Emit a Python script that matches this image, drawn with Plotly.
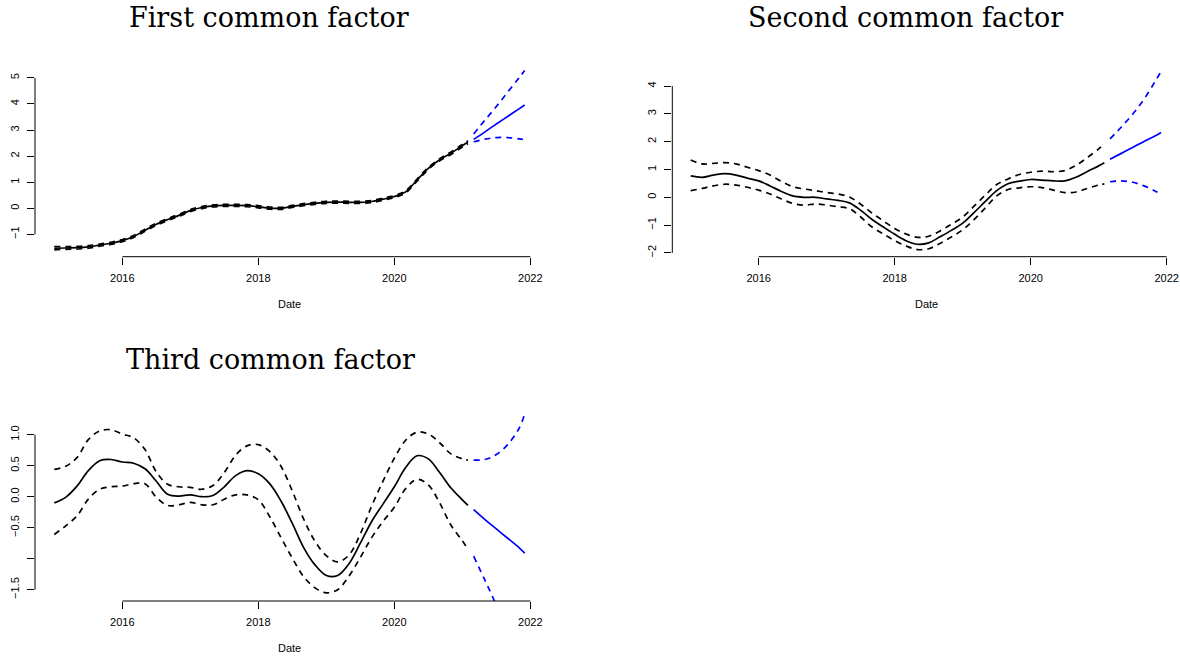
import plotly.graph_objects as go

W, H = 1180, 656

# ---- data -------------------------------------------------------------
# in-sample dates (bi-monthly readings, last observation Feb 2021)
HIST_DATES = [f"{y}-{m:02d}" for y in range(2015, 2021) for m in (1, 3, 5, 7, 9, 11)] + ["2021-01", "2021-02"]
# forecast horizon
FC_DATES = ["2021-03", "2021-05", "2021-07", "2021-09", "2021-11", "2021-12"]

F1_MEAN = [-1.53, -1.52, -1.51, -1.48, -1.41, -1.34,
           -1.24, -1.08, -0.84, -0.61, -0.43, -0.27,
           -0.09, 0.03, 0.09, 0.11, 0.11, 0.10,
           0.06, 0.01, 0.00, 0.07, 0.14, 0.19,
           0.23, 0.24, 0.23, 0.23, 0.26, 0.35,
           0.45, 0.63, 1.08, 1.53, 1.86, 2.11,
           2.40, 2.53]
F1_HALF = [0.06, 0.05, 0.05, 0.05, 0.04, 0.04,
           0.04, 0.04, 0.04, 0.04, 0.04, 0.04,
           0.04, 0.04, 0.04, 0.04, 0.04, 0.04,
           0.04, 0.04, 0.04, 0.04, 0.04, 0.04,
           0.04, 0.04, 0.04, 0.04, 0.04, 0.04,
           0.04, 0.04, 0.04, 0.04, 0.04, 0.05,
           0.05, 0.06]
F1_FC_MEAN = [2.64, 2.93, 3.23, 3.52, 3.81, 3.96]
F1_FC_UPPER = [2.85, 3.38, 3.90, 4.45, 5.00, 5.28]
F1_FC_LOWER = [2.55, 2.65, 2.71, 2.71, 2.66, 2.63]

F2_MEAN = [0.77, 0.72, 0.80, 0.85, 0.80, 0.69,
           0.59, 0.41, 0.21, 0.05, 0.00, 0.00,
           -0.06, -0.11, -0.20, -0.47, -0.80, -1.07,
           -1.33, -1.56, -1.69, -1.64, -1.42, -1.19,
           -0.93, -0.55, -0.15, 0.24, 0.49, 0.58,
           0.64, 0.62, 0.59, 0.59, 0.72, 0.93,
           1.13, 1.24]
F2_UPPER = [1.34, 1.20, 1.22, 1.25, 1.20, 1.08,
            0.96, 0.80, 0.57, 0.38, 0.30, 0.24,
            0.17, 0.12, 0.01, -0.25, -0.57, -0.85,
            -1.12, -1.32, -1.44, -1.40, -1.21, -0.97,
            -0.71, -0.32, 0.08, 0.46, 0.66, 0.82,
            0.90, 0.94, 0.92, 0.96, 1.15, 1.43,
            1.74, 1.92]
F2_LOWER = [0.24, 0.32, 0.41, 0.47, 0.44, 0.36,
            0.26, 0.12, -0.06, -0.22, -0.28, -0.24,
            -0.28, -0.34, -0.41, -0.71, -1.07, -1.32,
            -1.56, -1.75, -1.88, -1.85, -1.66, -1.43,
            -1.17, -0.80, -0.38, 0.05, 0.28, 0.34,
            0.38, 0.35, 0.26, 0.17, 0.19, 0.32,
            0.44, 0.48]
F2_FC_MEAN = [1.37, 1.58, 1.79, 2.01, 2.21, 2.33]
F2_FC_UPPER = [2.10, 2.53, 2.99, 3.53, 4.18, 4.52]
F2_FC_LOWER = [0.56, 0.59, 0.54, 0.41, 0.22, 0.11]

F3_MEAN = [-0.10, -0.01, 0.17, 0.42, 0.58, 0.60,
           0.56, 0.54, 0.45, 0.25, 0.04, 0.01,
           0.03, 0.00, 0.02, 0.16, 0.34, 0.42,
           0.37, 0.21, -0.07, -0.43, -0.82, -1.10,
           -1.27, -1.27, -1.08, -0.75, -0.40, -0.12,
           0.16, 0.47, 0.66, 0.61, 0.39, 0.14,
           -0.05, -0.14]
F3_UPPER = [0.44, 0.49, 0.63, 0.92, 1.06, 1.08,
            1.01, 0.95, 0.76, 0.40, 0.20, 0.16,
            0.15, 0.12, 0.18, 0.39, 0.67, 0.82,
            0.84, 0.73, 0.49, 0.09, -0.36, -0.72,
            -0.95, -1.05, -0.94, -0.60, -0.15, 0.25,
            0.62, 0.91, 1.04, 1.01, 0.87, 0.69,
            0.61, 0.59]
F3_LOWER = [-0.61, -0.47, -0.31, -0.04, 0.12, 0.16,
            0.17, 0.21, 0.21, -0.01, -0.14, -0.13,
            -0.09, -0.13, -0.13, -0.04, 0.03, 0.03,
            -0.05, -0.32, -0.66, -0.99, -1.29, -1.47,
            -1.55, -1.50, -1.28, -0.98, -0.66, -0.40,
            -0.17, 0.13, 0.28, 0.19, -0.10, -0.46,
            -0.71, -0.85]
F3_FC_MEAN = [-0.21, -0.37, -0.52, -0.67, -0.82, -0.91]
F3_FC_UPPER = [0.59, 0.60, 0.68, 0.84, 1.10, 1.33]
F3_FC_LOWER = [-0.96, -1.35, -1.75, -2.20, -2.70, -3.00]

TITLES = ["First common factor", "Second common factor", "Third common factor"]
X_TICKS = [2016, 2018, 2020, 2022]
Y1_TICKS = [-1, 0, 1, 2, 3, 4, 5]
Y2_TICKS = [-2, -1, 0, 1, 2, 3, 4]
Y3_TICKS = [-1.5, -1.0, -0.5, 0.0, 0.5, 1.0]
Y3_LABELS = ["\u22121.5", "", "\u22120.5", "0.0", "0.5", "1.0"]


def dec_year(s):
    y, m = s.split("-")
    return int(y) + (int(m) - 1) / 12


xh = [dec_year(d) for d in HIST_DATES]
xf = [dec_year(d) for d in FC_DATES]

BLACK = "#000000"
BLUE = "#0000FF"
LW = 1.7
DASH = "6px,5px"
TICK_FONT = dict(family="Liberation Sans, Arial, sans-serif", size=11, color="#000")
TITLE_FONT = dict(family="DejaVu Serif, serif", size=27, color="#000")

fig = go.Figure()


def add_panel(n, mean, upper, lower, fc_mean, fc_upper, fc_lower):
    xa = "x" if n == 1 else f"x{n}"
    ya = "y" if n == 1 else f"y{n}"
    common = dict(xaxis=xa, yaxis=ya, mode="lines", showlegend=False, hoverinfo="skip")
    fig.add_trace(go.Scatter(x=xh, y=upper, line=dict(color=BLACK, width=LW, dash=DASH, shape="spline"), **common))
    fig.add_trace(go.Scatter(x=xh, y=lower, line=dict(color=BLACK, width=LW, dash=DASH, shape="spline"), **common))
    fig.add_trace(go.Scatter(x=xh, y=mean, line=dict(color=BLACK, width=LW, shape="spline"), **common))
    fig.add_trace(go.Scatter(x=xf, y=fc_upper, line=dict(color=BLUE, width=LW, dash=DASH, shape="spline"), **common))
    fig.add_trace(go.Scatter(x=xf, y=fc_lower, line=dict(color=BLUE, width=LW, dash=DASH, shape="spline"), **common))
    fig.add_trace(go.Scatter(x=xf, y=fc_mean, line=dict(color=BLUE, width=LW, shape="spline"), **common))


f1_up = [m + h for m, h in zip(F1_MEAN, F1_HALF)]
f1_lo = [m - h for m, h in zip(F1_MEAN, F1_HALF)]
add_panel(1, F1_MEAN, f1_up, f1_lo, F1_FC_MEAN, F1_FC_UPPER, F1_FC_LOWER)
add_panel(2, F2_MEAN, F2_UPPER, F2_LOWER, F2_FC_MEAN, F2_FC_UPPER, F2_FC_LOWER)
add_panel(3, F3_MEAN, F3_UPPER, F3_LOWER, F3_FC_MEAN, F3_FC_UPPER, F3_FC_LOWER)


def px_x(p):
    return p / W


def px_y(p):
    return 1 - p / H


# plot regions in pixels: (left, right, top, bottom), x range, y range
PANELS = [
    dict(xd=(35, 544), yd=(60, 256.7), xr=[2014.716, 2022.201], yr=[-1.854, 5.682],
         yt=Y1_TICKS, yl=["\u22121", "0", "1", "2", "3", "4", "5"], title_x=269, title_base=27, date_y=304),
    dict(xd=(672.3, 1180), yd=(65, 256.7), xr=[2014.729, 2022.196], yr=[-2.137, 4.759],
         yt=Y2_TICKS, yl=["\u22122", "\u22121", "0", "1", "2", "3", "4"], title_x=905.8, title_base=27, date_y=304),
    dict(xd=(35, 544), yd=(395, 601), xr=[2014.716, 2022.201], yr=[-1.682, 1.640],
         yt=Y3_TICKS, yl=Y3_LABELS, title_x=270, title_base=369.5, date_y=648.3),
]

layout = dict(
    width=W, height=H, margin=dict(l=0, r=0, t=0, b=0),
    paper_bgcolor="white", plot_bgcolor="white", showlegend=False,
)
shapes, annotations = [], []
for i, p in enumerate(PANELS, start=1):
    sfx = "" if i == 1 else str(i)
    layout[f"xaxis{sfx}"] = dict(
        domain=[px_x(p["xd"][0]), px_x(p["xd"][1])], range=p["xr"], anchor=f"y{sfx}",
        tickvals=X_TICKS, ticktext=[str(t) for t in X_TICKS], ticks="outside", ticklen=7,
        tickwidth=1, tickcolor=BLACK, showline=False, showgrid=False, zeroline=False,
        tickfont=TICK_FONT, ticklabelstandoff=4, fixedrange=True,
    )
    layout[f"yaxis{sfx}"] = dict(
        domain=[px_y(p["yd"][1]), px_y(p["yd"][0])], range=p["yr"], anchor=f"x{sfx}",
        tickvals=p["yt"], ticktext=p["yl"], ticks="outside", ticklen=7, tickangle=-90,
        tickwidth=1, tickcolor=BLACK, showline=False, showgrid=False, zeroline=False,
        tickfont=TICK_FONT, ticklabelstandoff=4, fixedrange=True,
    )
    xa = "x" if i == 1 else f"x{i}"
    ya = "y" if i == 1 else f"y{i}"
    # base-graphics style axis lines spanning first to last tick
    shapes.append(dict(type="line", xref=f"{xa} domain", x0=0, x1=0, yref=ya,
                       y0=min(p["yt"]), y1=max(p["yt"]), line=dict(color=BLACK, width=1)))
    shapes.append(dict(type="line", xref=xa, x0=min(X_TICKS), x1=max(X_TICKS), yref=f"{ya} domain",
                       y0=0, y1=0, line=dict(color=BLACK, width=1)))
    # title box bottom sits one descender below the baseline
    annotations.append(dict(text=TITLES[i - 1], xref="paper", yref="paper", x=px_x(p["title_x"]),
                            y=px_y(p["title_base"] + 7.5), xanchor="center", yanchor="bottom",
                            showarrow=False, font=TITLE_FONT))
    annotations.append(dict(text="Date", xref=f"{xa} domain", yref="paper", x=0.5,
                            y=px_y(p["date_y"]), xanchor="center", yanchor="middle",
                            showarrow=False, font=TICK_FONT))

layout["shapes"] = shapes
layout["annotations"] = annotations
fig.update_layout(**layout)

fig.write_html("out.html", config=dict(displayModeBar=False))
